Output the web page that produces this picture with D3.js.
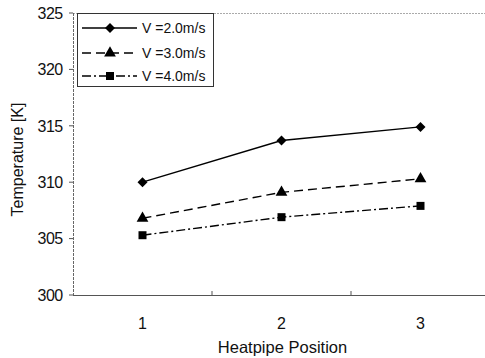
<!DOCTYPE html>
<html><head><meta charset="utf-8">
<script src="https://cdn.jsdelivr.net/npm/d3@7"></script>
<style>body{margin:0;background:#fff}svg{display:block}text{font-family:"Liberation Sans",Arial,sans-serif;fill:#111}</style>
</head><body>
<script>
const categories = ["1","2","3"];
const seriesNames = ["V =2.0m/s","V =3.0m/s","V =4.0m/s"];
const v20 = [310.0, 313.7, 314.9];
const v30 = [306.8, 309.1, 310.3];
const v40 = [305.3, 306.9, 307.9];
const yTicks = [300,305,310,315,320,325];

(function(){
const W=485,H=358;
const svg=d3.select("body").append("svg").attr("width",W).attr("height",H);
const pL=73, pR=490, pT=13, pB=295;
const x=d3.scaleBand().domain(categories).range([pL,pR]).padding(0);
const y=d3.scaleLinear().domain([300,325]).range([pB,pT]);

svg.append("line").attr("x1",pL).attr("x2",W).attr("y1",pT+0.5).attr("y2",pT+0.5).attr("stroke","#aaa").attr("stroke-width",1).attr("stroke-dasharray","2,1");
svg.append("line").attr("x1",pL+0.5).attr("x2",pL+0.5).attr("y1",pT).attr("y2",pB).attr("stroke","#666").attr("stroke-width",1).attr("stroke-dasharray","3,1");
svg.append("line").attr("x1",pL).attr("x2",W).attr("y1",pB+0.5).attr("y2",pB+0.5).attr("stroke","#555").attr("stroke-width",1);

yTicks.forEach(t=>{
  svg.append("line").attr("x1",pL-4).attr("x2",pL).attr("y1",y(t)).attr("y2",y(t)).attr("stroke","#555");
  svg.append("text").attr("x",62.5).attr("y",y(t)).attr("dy","0.36em").attr("text-anchor","end")
    .attr("font-size",16).attr("letter-spacing","-0.6").text(t);
});
categories.forEach((c,i)=>{
  if(i>0) svg.append("line").attr("x1",x(c)).attr("x2",x(c)).attr("y1",pB-4).attr("y2",pB).attr("stroke","#555");
  svg.append("text").attr("x",x(c)+x.bandwidth()/2).attr("y",323.5).attr("dy","0.36em").attr("text-anchor","middle")
    .attr("font-size",16).text(c);
});
svg.append("text").attr("x",282.5).attr("y",347.5).attr("dy","0.36em").attr("text-anchor","middle")
  .attr("font-size",16.5).text("Heatpipe Position");
svg.append("text").attr("transform","translate(17,159.5) rotate(-90)").attr("dy","0.36em").attr("text-anchor","middle")
  .attr("font-size",16).text("Temperature [K]");

const diamond={draw(ctx,size){const r=Math.sqrt(size/2);ctx.moveTo(0,-r);ctx.lineTo(r,0);ctx.lineTo(0,r);ctx.lineTo(-r,0);ctx.closePath();}};
const styles=[
  {data:v20,dash:null,shape:diamond,size:50},
  {data:v30,dash:"9,5",shape:d3.symbolTriangle,size:60},
  {data:v40,dash:"9,3,2,3",shape:d3.symbolSquare,size:64}
];
const cx=c=>x(c)+x.bandwidth()/2;
styles.forEach(s=>{
  const line=d3.line().x((d,i)=>cx(categories[i])).y(d=>y(d));
  svg.append("path").attr("d",line(s.data)).attr("fill","none").attr("stroke","#000").attr("stroke-width",1.4)
    .attr("stroke-dasharray",s.dash);
  s.data.forEach((d,i)=>{
    svg.append("path").attr("d",d3.symbol().type(s.shape).size(s.size)())
      .attr("transform",`translate(${cx(categories[i])},${y(d)})`).attr("fill","#000");
  });
});

const lg=svg.append("g");
lg.append("rect").attr("x",77.5).attr("y",13.5).attr("width",136).attr("height",73).attr("fill","#fff").attr("stroke","#333").attr("stroke-width",1);
const rows=[28,53,76];
styles.forEach((s,i)=>{
  lg.append("line").attr("x1",82).attr("x2",137).attr("y1",rows[i]).attr("y2",rows[i]).attr("stroke","#000").attr("stroke-width",1.4).attr("stroke-dasharray",s.dash);
  lg.append("path").attr("d",d3.symbol().type(s.shape).size(s.size)()).attr("transform",`translate(110,${rows[i]})`).attr("fill","#000");
  lg.append("text").attr("x",142).attr("y",rows[i]).attr("dy","0.36em").attr("font-size",14).text(seriesNames[i]);
});
})();
</script>
</body></html>
